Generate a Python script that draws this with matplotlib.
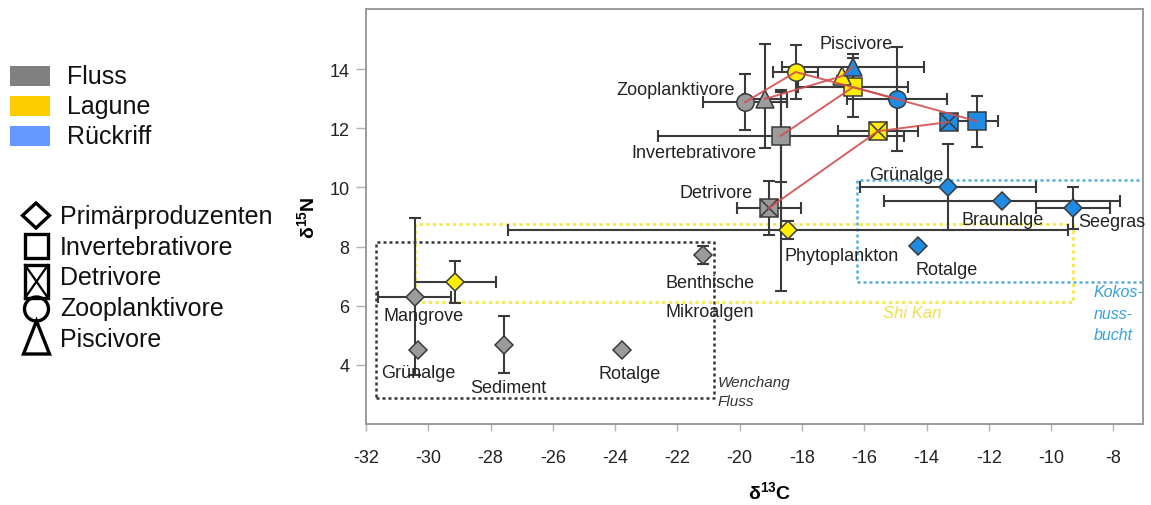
import matplotlib
matplotlib.use("Agg")
import matplotlib.pyplot as plt
from matplotlib.patches import Rectangle, Polygon, Circle

plt.rcParams['font.family'] = ['Liberation Sans', 'DejaVu Sans']
plt.rcParams['mathtext.fontset'] = 'custom'
plt.rcParams['mathtext.rm'] = 'Liberation Sans'
plt.rcParams['mathtext.it'] = 'Liberation Sans:italic'
plt.rcParams['mathtext.bf'] = 'Liberation Sans:bold'
plt.rcParams['axes.unicode_minus'] = False

# ---------------- data ----------------
habitats = ["Fluss", "Lagune", "Rückriff"]
legend_colors = ["#808080", "#FFCC00", "#6699FF"]
face_colors = ["#9B9B9B", "#FFEE00", "#1F8BE3"]
groups = ["Primärproduzenten", "Invertebrativore", "Detrivore", "Zooplanktivore", "Piscivore"]

# consumers: order Zooplanktivore, Piscivore, Invertebrativore, Detrivore
fluss_c_x = [-19.83, -19.19, -18.68, -19.06]
fluss_c_y = [12.88, 12.99, 11.74, 9.30]
fluss_c_xerr = [1.35, 0.7, 3.95, 1.03]
fluss_c_yerr_lo = [0.95, 1.65, 5.25, 0.9]
fluss_c_yerr_hi = [0.95, 1.85, 1.5, 0.9]
fluss_inv_inner_yerr = 1.55

lagune_c_x = [-18.20, -16.72, -16.36, -15.56]
lagune_c_y = [13.90, 13.76, 13.39, 11.90]
lagune_c_xerr = [0.73, 0.0, 1.77, 1.27]
lagune_c_yerr = [0.9, 0.0, 1.0, 0.0]

rueck_c_x = [-14.95, -16.37, -12.39, -13.28]
rueck_c_y = [12.99, 14.07, 12.24, 12.21]
rueck_c_xerr = [1.6, 2.28, 0.7, 0.0]
rueck_c_yerr = [1.75, 0.45, 0.86, 0.0]

# primary producers
fluss_pp_names = ["Mangrove", "Grünalge", "Sediment", "Rotalge", "Benthische\nMikroalgen"]
fluss_pp_x = [-30.43, -30.33, -27.57, -23.78, -21.18]
fluss_pp_y = [6.30, 4.51, 4.68, 4.51, 7.72]
fluss_pp_xerr = [1.17, 0.0, 0.0, 0.0, 0.0]
fluss_pp_yerr = [2.65, 0.0, 0.97, 0.0, 0.3]

lagune_pp_names = ["Mangrove", "Phytoplankton"]
lagune_pp_x = [-29.14, -18.45]
lagune_pp_y = [6.80, 8.56]
lagune_pp_xerr = [1.3, 9.0]
lagune_pp_yerr = [0.7, 0.3]

rueck_pp_names = ["Grünalge", "Braunalge", "Seegras", "Rotalge"]
rueck_pp_x = [-13.32, -11.58, -9.30, -14.28]
rueck_pp_y = [10.01, 9.54, 9.30, 8.02]
rueck_pp_xerr = [2.83, 3.8, 1.18, 0.0]
rueck_pp_yerr = [1.44, 0.0, 0.7, 0.0]

# habitat boxes (x0, x1, y0, y1)
box_fluss = [-31.68, -20.83, 2.89, 8.15]
box_shikan = [-30.43, -9.30, 6.13, 8.76]
box_kokos = [-16.24, -7.0, 6.80, 10.25]

x_ticks = list(range(-32, -7, 2))
y_ticks = [4, 6, 8, 10, 12, 14]

# ---------------- figure ----------------
fig = plt.figure(figsize=(11.51, 5.06), dpi=100)
ax = fig.add_axes([366/1151, 81/506, 777/1151, 415/506])
ax.set_xlim(-32, -7.05)
ax.set_ylim(2.0, 16.03)

for sp in ax.spines.values():
    sp.set_color("#9a9a9a")
    sp.set_linewidth(1.4)
ax.set_xticks(x_ticks)
ax.set_yticks(y_ticks)
ax.tick_params(axis='x', colors="#b0b0b0", length=5, width=1, pad=13, labelsize=13, labelcolor="#222222")
ax.tick_params(axis='y', colors="#b0b0b0", length=7, width=1, pad=5, labelsize=13, labelcolor="#222222")
ax.set_xlabel(r'$\mathbf{\delta^{13}C}$', fontsize=14)
ax.set_ylabel(r'$\mathbf{\delta^{15}N}$', fontsize=14)
ax.xaxis.set_label_coords(0.52, -0.135)
ax.yaxis.set_label_coords(-0.062, 0.5)

# boxes
def draw_box(b, color, lw, dash):
    xs = [b[0], b[1], b[1], b[0], b[0]]
    ys = [b[2], b[2], b[3], b[3], b[2]]
    ax.plot(xs, ys, color=color, lw=lw, linestyle=(0, dash), zorder=1)

draw_box(box_fluss, "#333333", 1.8, (1.2, 1.2))
draw_box(box_shikan, "#F3E84E", 2.0, (1.2, 1.2))
draw_box(box_kokos, "#55AEDC", 1.8, (1.2, 1.2))

eb_kw = dict(fmt='none', ecolor="#3a3a3a", elinewidth=1.5, capsize=4.5, capthick=1.5, zorder=2)

# error bars
ax.errorbar(fluss_pp_x, fluss_pp_y, xerr=fluss_pp_xerr, yerr=fluss_pp_yerr, **eb_kw)
ax.errorbar(lagune_pp_x, lagune_pp_y, xerr=lagune_pp_xerr, yerr=lagune_pp_yerr, **eb_kw)
ax.errorbar(rueck_pp_x, rueck_pp_y, xerr=rueck_pp_xerr, yerr=rueck_pp_yerr, **eb_kw)
ax.errorbar(fluss_c_x, fluss_c_y, xerr=fluss_c_xerr,
            yerr=[fluss_c_yerr_lo, fluss_c_yerr_hi], **eb_kw)
ax.errorbar([fluss_c_x[2]], [fluss_c_y[2]], yerr=[fluss_inv_inner_yerr], **eb_kw)
ax.errorbar(lagune_c_x, lagune_c_y, xerr=lagune_c_xerr, yerr=lagune_c_yerr, **eb_kw)
ax.errorbar(rueck_c_x, rueck_c_y, xerr=rueck_c_xerr, yerr=rueck_c_yerr, **eb_kw)

# markers
mk_edge = "#3a3a3a"
shapes = ['o', '^', 's', 's']
zorders = [3.2, 3.5, 3.1, 3.1]
for cx, cy, fc in [(fluss_c_x, fluss_c_y, face_colors[0]),
                   (lagune_c_x, lagune_c_y, face_colors[1]),
                   (rueck_c_x, rueck_c_y, face_colors[2])]:
    for i in range(4):
        ax.plot(cx[i], cy[i], marker=shapes[i], ms=12.5, mfc=fc, mec=mk_edge,
                mew=1.1, ls='none', zorder=zorders[i])
    ax.plot(cx[3], cy[3], marker='x', ms=12.5, mec="#3a3a3a", mew=1.1, ls='none', zorder=3.15)

for px_, py_, fc in [(fluss_pp_x, fluss_pp_y, face_colors[0]),
                     (lagune_pp_x, lagune_pp_y, face_colors[1]),
                     (rueck_pp_x, rueck_pp_y, face_colors[2])]:
    ax.plot(px_, py_, marker='D', ms=9.5, mfc=fc, mec=mk_edge, mew=1.1, ls='none', zorder=3)

# red food-web lines (Fluss -> Lagune -> Rückriff per group)
for i in range(4):
    ax.plot([fluss_c_x[i], lagune_c_x[i], rueck_c_x[i]],
            [fluss_c_y[i], lagune_c_y[i], rueck_c_y[i]],
            color="#D0504F", lw=1.4, alpha=0.9, zorder=5)

# labels
tk = dict(fontsize=13, color="#222222", zorder=6)
ax.text(-16.27, 14.88, "Piscivore", ha='center', va='center', **tk)
ax.text(-20.15, 13.32, "Zooplanktivore", ha='right', va='center', **tk)
ax.text(-19.45, 11.18, "Invertebrativore", ha='right', va='center', **tk)
ax.text(-19.58, 9.81, "Detrivore", ha='right', va='center', **tk)
ax.text(-18.55, 7.68, lagune_pp_names[1], ha='left', va='center', **tk)
ax.text(-14.66, 10.45, rueck_pp_names[0], ha='center', va='center', **tk)
ax.text(-11.55, 8.93, rueck_pp_names[1], ha='center', va='center', **tk)
ax.text(-9.14, 8.85, rueck_pp_names[2], ha='left', va='center', **tk)
ax.text(-14.34, 7.24, rueck_pp_names[3], ha='left', va='center', **tk)
ax.text(-30.14, 5.66, fluss_pp_names[0], ha='center', va='center', **tk)
ax.text(-30.33, 3.73, fluss_pp_names[1], ha='center', va='center', **tk)
ax.text(-27.44, 3.22, fluss_pp_names[2], ha='center', va='center', **tk)
ax.text(-23.52, 3.70, fluss_pp_names[3], ha='center', va='center', **tk)
ax.text(-20.96, 6.80, "Benthische", ha='center', va='center', **tk)
ax.text(-20.96, 5.82, "Mikroalgen", ha='center', va='center', **tk)
ax.text(-20.70, 3.43, "Wenchang", ha='left', va='center', fontsize=11, style='italic', color="#333333")
ax.text(-20.70, 2.78, "Fluss", ha='left', va='center', fontsize=11, style='italic', color="#333333")
ax.text(-14.47, 5.76, "Shi Kan", ha='center', va='center', fontsize=12, style='italic', color="#EEE04A")
for txt, yy in zip(["Kokos-", "nuss-", "bucht"], [6.47, 5.72, 5.01]):
    ax.text(-8.63, yy, txt, ha='left', va='center', fontsize=11.5, style='italic', color="#3AA0D8")

# ---------------- legend (pixel overlay) ----------------
ov = fig.add_axes([0, 0, 1, 1])
ov.set_xlim(0, 1151)
ov.set_ylim(506, 0)
ov.axis('off')
ov.patch.set_visible(False)

for i, (name, col) in enumerate(zip(habitats, legend_colors)):
    y0 = 67 + 30 * i
    ov.add_patch(Rectangle((10, y0), 40, 20, facecolor=col, edgecolor='none'))
    ov.text(67, y0 + 10, name, fontsize=18, va='center', ha='left', color="#111111")

lk = dict(facecolor='none', edgecolor='black', lw=2.4)
ov.add_patch(Polygon([(36, 204), (49.5, 216.5), (36, 229), (22.5, 216.5)], closed=True, **lk))
ov.add_patch(Rectangle((25, 235), 23, 24, **lk))
ov.add_patch(Rectangle((25, 266), 23, 33, **lk))
ov.plot([25, 48], [266, 299], color='black', lw=1.6)
ov.plot([25, 48], [299, 266], color='black', lw=1.6)
ov.add_patch(Circle((36.5, 310), 12, **lk))
ov.add_patch(Polygon([(36.5, 322), (49.5, 355), (23.5, 355)], closed=True, **lk))
for name, yy in zip(groups, [217, 248, 278, 309, 340]):
    ov.text(60, yy, name, fontsize=18, va='center', ha='left', color="#111111")

fig.savefig("out.png", dpi=100)
